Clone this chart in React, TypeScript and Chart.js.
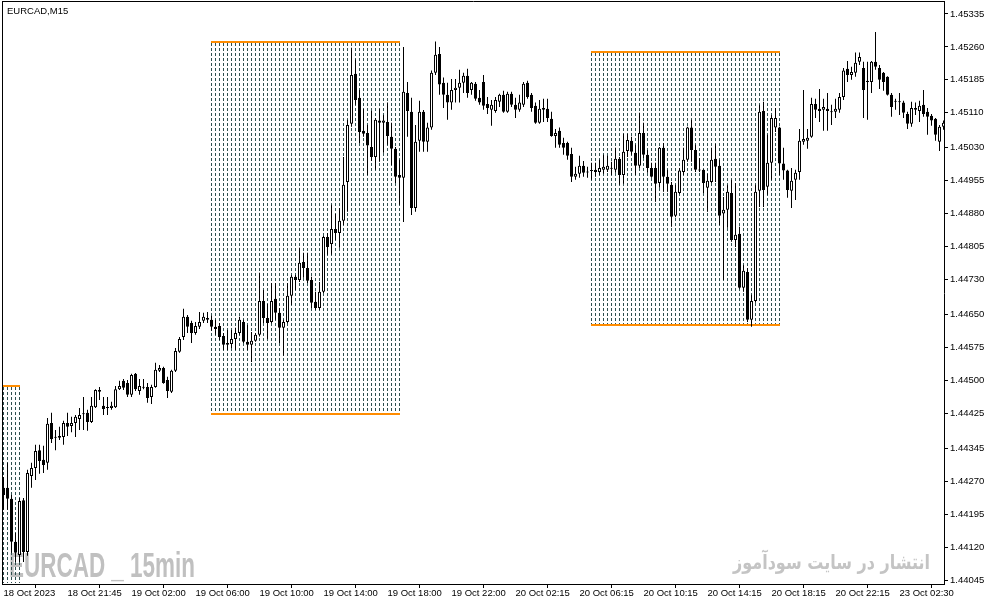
import React, { useEffect, useRef } from "react";
import { Chart, registerables } from "chart.js";

Chart.register(...registerables);

// ---- Data (EURCAD M15) ----
const openP = [
  1.44255,1.44255,1.44230,1.44132,1.44102,1.44227,1.44109,1.44282,1.44300,1.44341,
  1.44319,1.44312,1.44403,1.44371,1.44373,1.44371,1.44403,1.44396,1.44403,1.44412,
  1.44423,1.44426,1.44405,1.44439,1.44474,1.44442,1.44439,1.44437,1.44439,1.44480,
  1.44499,1.44494,1.44467,1.44515,1.44476,1.44485,1.44485,1.44462,1.44485,1.44522,
  1.44528,1.44501,1.44474,1.44522,1.44565,1.44599,1.44645,1.44631,1.44608,1.44622,
  1.44636,1.44642,1.44638,1.44622,1.44624,1.44601,1.44585,1.44583,1.44594,1.44608,
  1.44633,1.44588,1.44581,1.44590,1.44604,1.44681,1.44642,1.44633,1.44686,1.44654,
  1.44620,1.44633,1.44693,1.44736,1.44729,1.44770,1.44756,1.44729,1.44679,1.44665,
  1.44702,1.44827,1.44811,1.44845,1.44836,1.44864,1.44952,1.45085,1.45199,1.45144,
  1.45069,1.45064,1.45032,1.45009,1.45092,1.45087,1.45089,1.45055,1.45028,1.44968,
  1.44962,1.45155,1.45112,1.44893,1.45046,1.45112,1.45044,1.45076,1.45201,1.45244,
  1.45178,1.45151,1.45133,1.45162,1.45167,1.45178,1.45194,1.45162,1.45176,1.45144,
  1.45180,1.45130,1.45117,1.45114,1.45135,1.45151,1.45112,1.45153,1.45128,1.45117,
  1.45128,1.45178,1.45151,1.45126,1.45087,1.45121,1.45119,1.45096,1.45057,1.45069,
  1.45041,1.45041,1.45016,1.44964,1.44971,1.44989,1.44975,1.44978,1.44980,1.44975,
  1.44980,1.44980,1.44982,1.44980,1.45005,1.44968,1.45023,1.45046,1.45019,1.44989,
  1.45064,1.45014,1.44984,1.44984,1.44950,1.45030,1.44964,1.44946,1.44875,1.44927,
  1.44975,1.45003,1.45076,1.45025,1.44980,1.44980,1.44939,1.44952,1.45005,1.44989,
  1.44880,1.44889,1.44927,1.44820,1.44834,1.44711,1.44747,1.44638,1.44681,1.44932,
  1.45114,1.44941,1.44996,1.45076,1.45076,1.44994,1.44978,1.44932,1.44957,1.44975,
  1.45044,1.45046,1.45055,1.45130,1.45119,1.45117,1.45119,1.45112,1.45112,1.45117,
  1.45146,1.45210,1.45196,1.45201,1.45226,1.45212,1.45183,1.45180,1.45226,1.45212,
  1.45201,1.45192,1.45151,1.45137,1.45135,1.45133,1.45107,1.45085,1.45121,1.45114,
  1.45128,1.45112,1.45103,1.45096,1.45044,1.45078,
];
const highP = [
  1.44280,1.44312,1.44239,1.44152,1.44232,1.44232,1.44296,1.44312,1.44353,1.44353,
  1.44351,1.44414,1.44426,1.44387,1.44394,1.44408,1.44426,1.44417,1.44421,1.44437,
  1.44462,1.44433,1.44462,1.44480,1.44485,1.44462,1.44462,1.44451,1.44487,1.44499,
  1.44503,1.44501,1.44515,1.44517,1.44503,1.44503,1.44494,1.44490,1.44540,1.44535,
  1.44531,1.44508,1.44524,1.44574,1.44599,1.44663,1.44649,1.44636,1.44633,1.44656,
  1.44654,1.44656,1.44647,1.44638,1.44631,1.44608,1.44615,1.44615,1.44620,1.44645,
  1.44638,1.44626,1.44610,1.44608,1.44745,1.44706,1.44674,1.44722,1.44722,1.44665,
  1.44638,1.44722,1.44740,1.44740,1.44802,1.44791,1.44791,1.44736,1.44702,1.44724,
  1.44829,1.44836,1.44900,1.44879,1.44893,1.45009,1.45094,1.45258,1.45231,1.45162,
  1.45119,1.45082,1.45114,1.45098,1.45119,1.45105,1.45133,1.45087,1.45032,1.45003,
  1.45260,1.45180,1.45144,1.45082,1.45137,1.45116,1.45087,1.45206,1.45272,1.45260,
  1.45190,1.45178,1.45187,1.45187,1.45208,1.45201,1.45210,1.45180,1.45180,1.45162,
  1.45196,1.45146,1.45139,1.45146,1.45153,1.45160,1.45158,1.45158,1.45144,1.45151,
  1.45180,1.45183,1.45155,1.45133,1.45139,1.45142,1.45142,1.45112,1.45073,1.45076,
  1.45053,1.45044,1.45030,1.44987,1.45012,1.45000,1.44987,1.44996,1.44996,1.45003,
  1.45014,1.45012,1.44998,1.45030,1.45009,1.45062,1.45062,1.45055,1.45037,1.45110,
  1.45087,1.45025,1.44996,1.44996,1.45032,1.45041,1.44980,1.44952,1.44946,1.44984,
  1.45030,1.45078,1.45094,1.45037,1.45007,1.44981,1.44971,1.45030,1.45039,1.45003,
  1.44918,1.44946,1.44957,1.44950,1.44850,1.44763,1.44756,1.44695,1.44946,1.45128,
  1.45135,1.45060,1.45105,1.45121,1.45078,1.45030,1.44980,1.44984,1.44980,1.45073,
  1.45162,1.45073,1.45144,1.45142,1.45164,1.45142,1.45155,1.45128,1.45142,1.45155,
  1.45212,1.45228,1.45215,1.45247,1.45247,1.45226,1.45226,1.45228,1.45294,1.45219,
  1.45203,1.45193,1.45155,1.45142,1.45155,1.45137,1.45112,1.45135,1.45133,1.45137,
  1.45162,1.45121,1.45107,1.45098,1.45082,1.45092,
];
const lowP = [
  1.44205,1.44205,1.44107,1.44086,1.44086,1.44086,1.44100,1.44255,1.44273,1.44287,
  1.44289,1.44296,1.44357,1.44341,1.44364,1.44353,1.44373,1.44382,1.44371,1.44387,
  1.44387,1.44385,1.44403,1.44437,1.44455,1.44421,1.44421,1.44433,1.44437,1.44478,
  1.44478,1.44462,1.44462,1.44476,1.44467,1.44480,1.44449,1.44446,1.44483,1.44519,
  1.44492,1.44460,1.44471,1.44519,1.44563,1.44592,1.44608,1.44585,1.44604,1.44617,
  1.44631,1.44631,1.44613,1.44604,1.44592,1.44569,1.44569,1.44574,1.44569,1.44604,
  1.44585,1.44569,1.44542,1.44588,1.44600,1.44631,1.44594,1.44630,1.44638,1.44585,
  1.44556,1.44630,1.44672,1.44706,1.44724,1.44734,1.44722,1.44665,1.44661,1.44661,
  1.44699,1.44786,1.44786,1.44820,1.44802,1.44854,1.44884,1.45078,1.45128,1.45041,
  1.45055,1.44968,1.45000,1.44980,1.44998,1.45019,1.45037,1.44991,1.44950,1.44900,
  1.44861,1.45055,1.44877,1.44884,1.45021,1.45021,1.45021,1.45071,1.45196,1.45151,
  1.45121,1.45094,1.45117,1.45133,1.45133,1.45155,1.45144,1.45151,1.45137,1.45128,
  1.45117,1.45107,1.45080,1.45110,1.45123,1.45110,1.45110,1.45123,1.45098,1.45112,
  1.45123,1.45142,1.45112,1.45085,1.45085,1.45089,1.45089,1.45055,1.45030,1.45030,
  1.45014,1.45003,1.44952,1.44957,1.44962,1.44964,1.44962,1.44957,1.44964,1.44968,
  1.44971,1.44975,1.44968,1.44973,1.44946,1.44948,1.45009,1.45014,1.44968,1.44984,
  1.45007,1.44973,1.44962,1.44907,1.44939,1.44930,1.44930,1.44850,1.44872,1.44925,
  1.44968,1.44998,1.44998,1.44975,1.44975,1.44927,1.44884,1.44950,1.44952,1.44854,
  1.44729,1.44848,1.44816,1.44804,1.44709,1.44702,1.44633,1.44622,1.44677,1.44895,
  1.44895,1.44923,1.44957,1.45066,1.44968,1.44957,1.44916,1.44893,1.44911,1.44957,
  1.45037,1.45028,1.45053,1.45098,1.45089,1.45069,1.45069,1.45082,1.45098,1.45110,
  1.45139,1.45180,1.45185,1.45192,1.45219,1.45098,1.45094,1.45155,1.45208,1.45164,
  1.45160,1.45149,1.45101,1.45117,1.45105,1.45098,1.45073,1.45078,1.45105,1.45089,
  1.45101,1.45060,1.45080,1.45046,1.45023,1.45071,
];
const closeP = [
  1.44239,1.44230,1.44132,1.44107,1.44225,1.44109,1.44289,1.44300,1.44339,1.44316,
  1.44307,1.44401,1.44366,1.44369,1.44369,1.44403,1.44394,1.44403,1.44417,1.44421,
  1.44425,1.44405,1.44442,1.44478,1.44478,1.44435,1.44437,1.44442,1.44480,1.44487,
  1.44483,1.44467,1.44512,1.44480,1.44487,1.44483,1.44460,1.44485,1.44524,1.44528,
  1.44494,1.44476,1.44522,1.44567,1.44594,1.44645,1.44622,1.44608,1.44624,1.44633,
  1.44645,1.44638,1.44622,1.44617,1.44599,1.44581,1.44581,1.44594,1.44608,1.44638,
  1.44588,1.44581,1.44590,1.44604,1.44681,1.44642,1.44631,1.44681,1.44654,1.44620,
  1.44633,1.44693,1.44736,1.44729,1.44768,1.44756,1.44727,1.44677,1.44665,1.44702,
  1.44827,1.44804,1.44845,1.44836,1.44864,1.44946,1.45082,1.45196,1.45139,1.45066,
  1.45062,1.45035,1.45009,1.45094,1.45087,1.45092,1.45057,1.45028,1.44964,1.44962,
  1.45158,1.45114,1.44893,1.45044,1.45112,1.45044,1.45076,1.45201,1.45242,1.45174,
  1.45151,1.45133,1.45162,1.45167,1.45178,1.45194,1.45155,1.45178,1.45142,1.45133,
  1.45126,1.45121,1.45128,1.45139,1.45151,1.45112,1.45153,1.45128,1.45117,1.45133,
  1.45176,1.45146,1.45121,1.45087,1.45119,1.45117,1.45098,1.45057,1.45064,1.45037,
  1.45030,1.45012,1.44964,1.44971,1.44989,1.44973,1.44974,1.44977,1.44975,1.44984,
  1.44987,1.44989,1.44983,1.45005,1.44968,1.45021,1.45048,1.45021,1.44989,1.45064,
  1.45014,1.44984,1.44964,1.44948,1.45030,1.44964,1.44948,1.44873,1.44930,1.44978,
  1.45003,1.45076,1.45025,1.44980,1.44978,1.44950,1.44955,1.45003,1.44987,1.44875,
  1.44889,1.44930,1.44820,1.44832,1.44711,1.44750,1.44638,1.44681,1.44930,1.45112,
  1.44934,1.44996,1.45098,1.45098,1.44994,1.44978,1.44934,1.44955,1.44973,1.45046,
  1.45050,1.45053,1.45130,1.45117,1.45114,1.45123,1.45114,1.45111,1.45119,1.45146,
  1.45206,1.45196,1.45203,1.45224,1.45237,1.45162,1.45180,1.45226,1.45215,1.45185,
  1.45180,1.45151,1.45123,1.45135,1.45134,1.45110,1.45085,1.45121,1.45117,1.45126,
  1.45107,1.45101,1.45092,1.45060,1.45078,1.45087,
];

const timeLabels = [
  "18 Oct 2023", "18 Oct 21:45", "19 Oct 02:00", "19 Oct 06:00", "19 Oct 10:00",
  "19 Oct 14:00", "19 Oct 18:00", "19 Oct 22:00", "20 Oct 02:15", "20 Oct 06:15",
  "20 Oct 10:15", "20 Oct 14:15", "20 Oct 18:15", "20 Oct 22:15", "23 Oct 02:30",
];
const timeLabelBars = [0, 16, 32, 48, 64, 80, 96, 112, 128, 144, 160, 176, 192, 208, 224];

const priceLabels = [
  "1.44045", "1.44120", "1.44195", "1.44270", "1.44345", "1.44425", "1.44500", "1.44575",
  "1.44650", "1.44730", "1.44805", "1.44880", "1.44955", "1.45030", "1.45110", "1.45185",
  "1.45260", "1.45335",
];

// session boxes (bar index range, high, low)
const boxStartBar = [0, 52, 147];
const boxEndBar = [4, 99, 194];
const boxHigh = [1.44487, 1.45272, 1.45249];
const boxLow = [1.43980, 1.44423, 1.44626];

const symbolTitle = "EURCAD,M15";
const watermarkLeft = "EURCAD _ 15min";
const watermarkRight = "انتشار در سایت سودآموز";

const FONT_FAMILY = "'Liberation Sans', Arial, sans-serif";

const overlayPlugin = {
  id: "mtOverlay",
  beforeDatasetsDraw(chart: any) {
    const { ctx, chartArea: a } = chart;
    const xs = chart.scales.x;
    const ys = chart.scales.y;
    ctx.save();

    // watermark left
    ctx.fillStyle = "#c0c0c0";
    ctx.font = "bold 35px 'Liberation Sans Narrow', 'Liberation Sans', sans-serif";
    ctx.textBaseline = "alphabetic";
    ctx.textAlign = "left";
    let w = ctx.measureText(watermarkLeft).width;
    ctx.save();
    ctx.translate(9, 577);
    ctx.scale(186 / w, 1);
    ctx.fillText(watermarkLeft, 0, 0);
    ctx.restore();

    // watermark right (Persian)
    ctx.fillStyle = "#c4c4c4";
    ctx.font = "bold 20px 'DejaVu Sans', 'Noto Sans', sans-serif";
    ctx.direction = "rtl";
    ctx.textAlign = "right";
    w = ctx.measureText(watermarkRight).width;
    ctx.save();
    ctx.translate(930, 569);
    ctx.scale(197 / w, 1);
    ctx.fillText(watermarkRight, 0, 0);
    ctx.restore();
    ctx.direction = "ltr";

    // session boxes
    ctx.beginPath();
    ctx.rect(a.left - 1, a.top, a.right - a.left + 1, a.bottom - a.top);
    ctx.clip();
    for (let b = 0; b < boxStartBar.length; b++) {
      const top = ys.getPixelForValue(boxHigh[b]);
      const bot = ys.getPixelForValue(boxLow[b]);
      const yt = Math.round(top);
      const yb = Math.min(Math.round(bot), a.bottom);
      ctx.fillStyle = "#2f4f4f";
      for (let k = boxStartBar[b]; k <= boxEndBar[b]; k++) {
        const px = Math.floor(xs.getPixelForValue(k));
        for (let yy = yt + 1; yy < yb - 1; yy += 5) {
          ctx.fillRect(px, yy, 1, Math.min(3, yb - 1 - yy));
        }
      }
      ctx.fillStyle = "#ff8c00";
      const x0 = Math.floor(xs.getPixelForValue(boxStartBar[b]));
      const x1 = Math.floor(xs.getPixelForValue(boxEndBar[b])) + 1;
      if (top >= a.top && top <= a.bottom) ctx.fillRect(x0, yt - 1, x1 - x0, 2);
      if (bot >= a.top && bot <= a.bottom) ctx.fillRect(x0, yb - 1, x1 - x0, 2);
    }
    ctx.restore();
  },
  afterDraw(chart: any) {
    const { ctx, chartArea: a } = chart;
    ctx.save();
    ctx.strokeStyle = "#000";
    ctx.lineWidth = 1;
    ctx.beginPath();
    ctx.moveTo(2.5, 1);
    ctx.lineTo(2.5, a.bottom + 1);
    ctx.moveTo(2, 1.5);
    ctx.lineTo(a.right + 1, 1.5);
    ctx.moveTo(a.right + 0.5, 1);
    ctx.lineTo(a.right + 0.5, a.top + 1);
    ctx.stroke();
    ctx.fillStyle = "#000";
    ctx.font = `9.5px ${FONT_FAMILY}`;
    ctx.textAlign = "left";
    ctx.textBaseline = "alphabetic";
    ctx.fillText(symbolTitle, 7, 14);
    ctx.restore();
  },
};

export default function App() {
  const ref = useRef<HTMLCanvasElement | null>(null);

  useEffect(() => {
    const canvas = ref.current;
    if (!canvas) return;

    const bodies = openP.map((o, i) => ({ x: i, y: [o, closeP[i]] }));
    const wicks = lowP.map((l, i) => ({ x: i, y: [l, highP[i]] }));
    const bodyColors = openP.map((o, i) => (closeP[i] >= o ? "#ffffff" : "#000000"));

    const tickFont = { family: FONT_FAMILY, size: 9.5 };

    const chart = new Chart(canvas, {
      type: "bar",
      data: {
        datasets: [
          {
            label: "body",
            data: bodies as any,
            backgroundColor: bodyColors,
            borderColor: "#000000",
            borderWidth: 1,
            borderSkipped: false,
            barThickness: 3,
            minBarLength: 1,
            grouped: false,
            inflateAmount: 0,
            order: 0,
          } as any,
          {
            label: "wick",
            data: wicks as any,
            backgroundColor: "#000000",
            borderWidth: 0,
            barThickness: 1,
            minBarLength: 1,
            grouped: false,
            inflateAmount: 0,
            order: 1,
          } as any,
        ],
      },
      options: {
        animation: false,
        responsive: false,
        events: [],
        layout: { padding: { left: 3, top: 2, right: 0, bottom: 0 }, autoPadding: false } as any,
        plugins: { legend: { display: false }, tooltip: { enabled: false }, title: { display: false } },
        scales: {
          x: {
            type: "linear",
            min: -0.125,
            max: 235.125,
            offset: false,
            afterBuildTicks: (s: any) => {
              s.ticks = timeLabelBars.map((v) => ({ value: v }));
            },
            afterFit: (s: any) => {
              s.height = 21;
              s.paddingLeft = 0;
              s.paddingRight = 0;
              s.paddingTop = 0;
              s.paddingBottom = 0;
            },
            ticks: {
              callback: (_v: any, idx: number) => timeLabels[idx],
              align: "start",
              maxRotation: 0,
              minRotation: 0,
              autoSkip: false,
              padding: 0,
              font: tickFont,
              color: "#000",
            },
            grid: { drawOnChartArea: false, drawTicks: true, tickLength: 4, color: "#000", lineWidth: 1 },
            border: { display: true, color: "#000", width: 1 },
          } as any,
          y: {
            type: "linear",
            position: "right",
            min: 1.440359,
            max: 1.453623,
            afterBuildTicks: (s: any) => {
              s.ticks = priceLabels.map((l) => ({ value: parseFloat(l) }));
            },
            afterFit: (s: any) => {
              s.width = 47;
              s.paddingLeft = 0;
              s.paddingRight = 0;
              s.paddingTop = 0;
              s.paddingBottom = 0;
            },
            ticks: {
              callback: (_v: any, idx: number) => priceLabels[idx],
              autoSkip: false,
              padding: 2,
              font: tickFont,
              color: "#000",
            },
            grid: { drawOnChartArea: false, drawTicks: true, tickLength: 4, color: "#000", lineWidth: 1 },
            border: { display: true, color: "#000", width: 1 },
          } as any,
        },
      },
      plugins: [overlayPlugin],
    });

    return () => chart.destroy();
  }, []);

  return (
    <div style={{ position: "fixed", left: 0, top: 0, width: 991, height: 605, background: "#ffffff" }}>
      <canvas ref={ref} width={991} height={605} style={{ display: "block" }} />
    </div>
  );
}
